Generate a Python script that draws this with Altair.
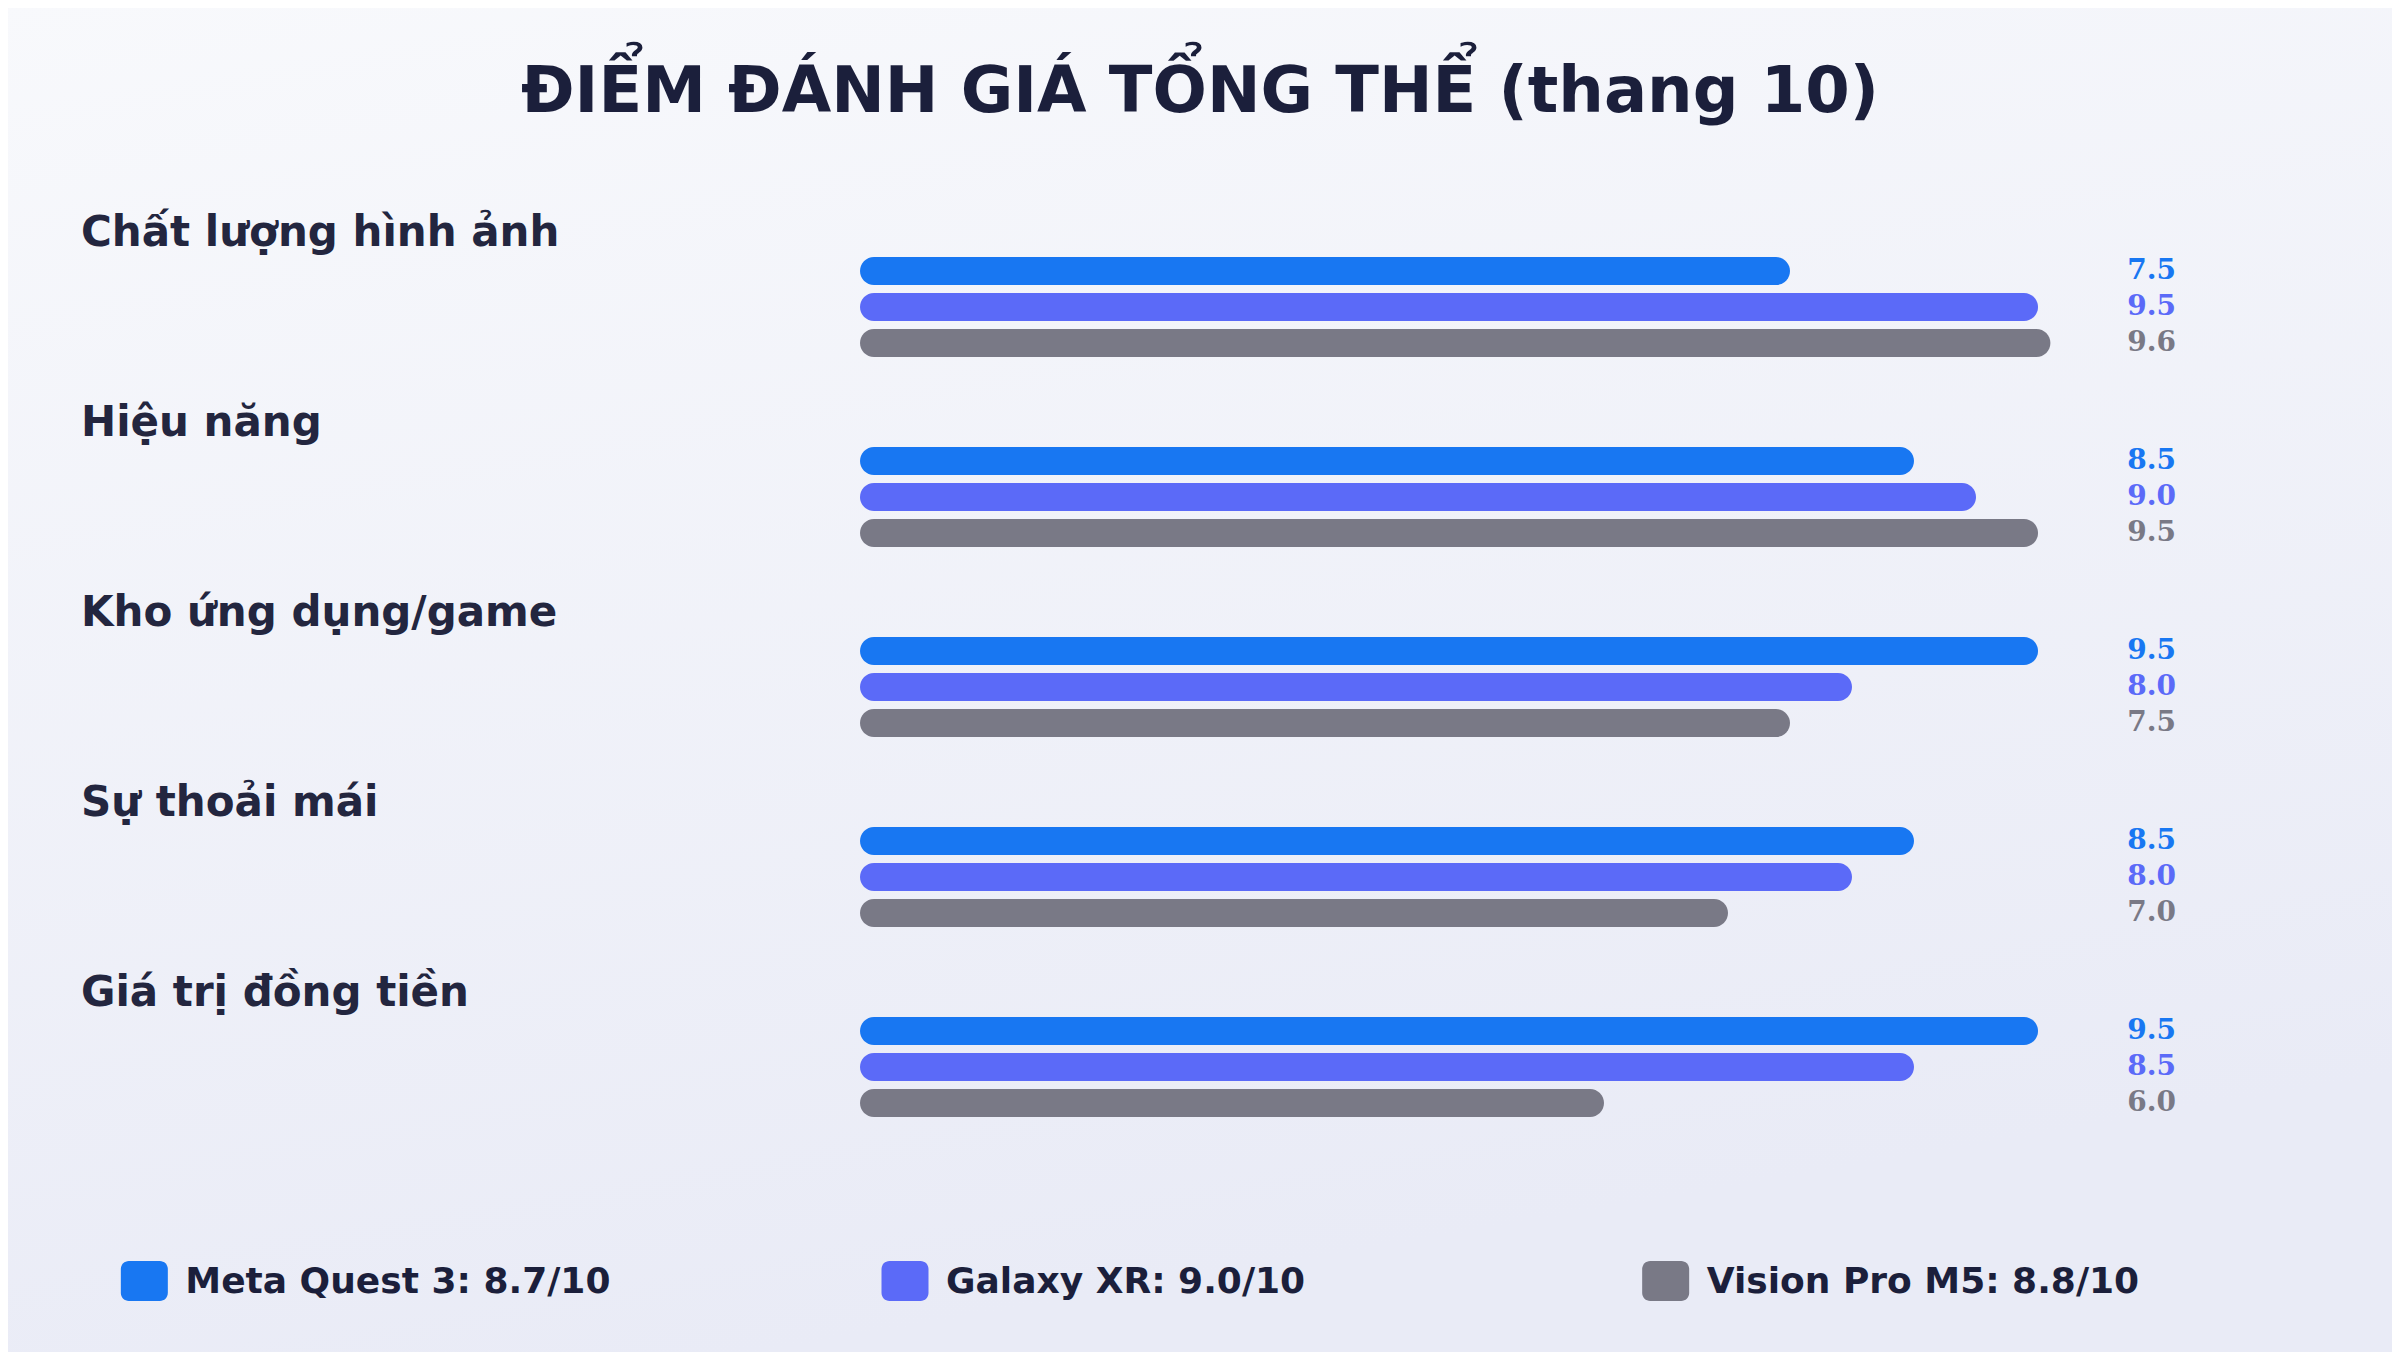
import altair as alt
import pandas as pd

# ---- data ----
categories = ["Chất lượng hình ảnh", "Hiệu năng", "Kho ứng dụng/game", "Sự thoải mái", "Giá trị đồng tiền"]
series = ["Meta Quest 3", "Galaxy XR", "Vision Pro M5"]
meta_scores = [7.5, 8.5, 9.5, 8.5, 9.5]
galaxy_scores = [9.5, 9.0, 8.0, 8.0, 8.5]
vision_scores = [9.6, 9.5, 7.5, 7.0, 6.0]
legend_labels = ["Meta Quest 3: 8.7/10", "Galaxy XR: 9.0/10", "Vision Pro M5: 8.8/10"]
colors = ["#1877F2", "#5B6AF8", "#797986"]
title_text = "ĐIỂM ĐÁNH GIÁ TỔNG THỂ (thang 10)"

rows = []
for s, vals in zip(series, [meta_scores, galaxy_scores, vision_scores]):
    for c, v in zip(categories, vals):
        rows.append({"category": c, "series": s, "value": v, "label": f"{v:.1f}"})
df = pd.DataFrame(rows)
cat_df = pd.DataFrame({"category": categories})
leg_df = pd.DataFrame({"series": series, "label": legend_labels})

W, H = 2384, 1344

color_scale = alt.Scale(domain=series, range=colors)
x_scale = alt.Scale(domain=[0, 10], range=[852, 2092])
y_scale = alt.Scale(domain=categories, range=[245, 1113], paddingInner=0.4316, paddingOuter=0)
yoff_scale = alt.Scale(domain=series, paddingInner=0.222, paddingOuter=0.111)

bg = alt.Chart(pd.DataFrame({"a": [0]})).mark_rect(
    color=alt.LinearGradient(
        gradient="linear",
        stops=[alt.GradientStop(color="#F8F9FC", offset=0),
               alt.GradientStop(color="#E9EBF6", offset=1)],
        x1=0, x2=0.3, y1=0, y2=1,
    )
).encode(x=alt.value(-8), x2=alt.value(W + 8), y=alt.value(-8), y2=alt.value(H + 8))

title = alt.Chart(pd.DataFrame({"t": [title_text]})).mark_text(
    font="DejaVu Sans", fontWeight="bold", fontSize=64, color="#1B1F3B",
    align="center", baseline="middle"
).encode(x=alt.value(1192), y=alt.value(85), text="t:N")

bars = alt.Chart(df).mark_bar(cornerRadius=14).encode(
    x=alt.X("value:Q", scale=x_scale, axis=None),
    x2=alt.datum(0),
    y=alt.Y("category:N", scale=y_scale, axis=None, sort=categories),
    yOffset=alt.YOffset("series:N", scale=yoff_scale, sort=series),
    color=alt.Color("series:N", scale=color_scale, legend=None),
)

values = alt.Chart(df).mark_text(
    font="DejaVu Serif", fontWeight="bold", fontSize=28,
    align="right", baseline="middle"
).encode(
    x=alt.value(2168),
    y=alt.Y("category:N", scale=y_scale, axis=None, sort=categories),
    yOffset=alt.YOffset("series:N", scale=yoff_scale, sort=series),
    color=alt.Color("series:N", scale=color_scale, legend=None),
    text="label:N",
)

cat_labels = alt.Chart(cat_df).mark_text(
    font="DejaVu Sans", fontWeight="bold", fontSize=42, color="#23263F",
    align="left", baseline="middle", dy=-74
).encode(
    x=alt.value(73),
    y=alt.Y("category:N", scale=y_scale, axis=None, sort=categories),
    text="category:N",
)

# band scale: band centres at the swatch centres
leg_x = alt.Scale(domain=series, range=[-244, 2038], paddingInner=0, paddingOuter=0)
leg_sw = alt.Chart(leg_df).mark_bar(cornerRadius=8, width=47).encode(
    x=alt.X("series:N", scale=leg_x, axis=None, sort=series),
    y=alt.value(1253), y2=alt.value(1293),
    color=alt.Color("series:N", scale=color_scale, legend=None),
)
leg_tx = alt.Chart(leg_df).mark_text(
    font="DejaVu Sans", fontWeight="bold", fontSize=36, color="#1B1F3B",
    align="left", baseline="middle", dx=41
).encode(
    x=alt.X("series:N", scale=leg_x, axis=None, sort=series),
    y=alt.value(1274),
    text="label:N",
)

main = alt.layer(bars, values, cat_labels)
legend = alt.layer(leg_sw, leg_tx)

chart = alt.layer(bg, title, main, legend).resolve_scale(x="independent").properties(
    width=W, height=H, padding=0, autosize=alt.AutoSizeParams(type="none"),
    background="#F1F2F8",
).configure_view(stroke=None)

chart.save("out.html", embed_options={"renderer": "svg", "actions": False})
